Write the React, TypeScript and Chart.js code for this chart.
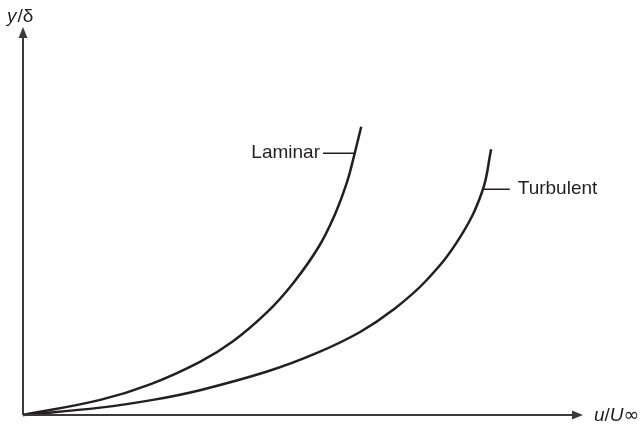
import { useEffect, useRef } from "react";
import { Chart, registerables } from "chart.js";

Chart.register(...registerables);

// Dimensionless boundary-layer velocity profiles: u/U∞ along x, y/δ along y.
const laminarU = [0, 0.138, 0.227, 0.316, 0.375, 0.436, 0.482, 0.527, 0.557, 0.579, 0.591, 0.604];
const laminarY = [0, 0.039, 0.079, 0.137, 0.19, 0.265, 0.339, 0.431, 0.517, 0.602, 0.667, 0.743];

const turbulentU = [0, 0.138, 0.232, 0.316, 0.436, 0.525, 0.602, 0.661, 0.721, 0.78, 0.82, 0.836];
const turbulentY = [0, 0.019, 0.039, 0.064, 0.112, 0.16, 0.214, 0.271, 0.348, 0.457, 0.576, 0.685];

// Curve names and the point on each curve where its leader line attaches.
const curveNames = ["Laminar", "Turbulent"];
const labelAnchorU = [0.591, 0.821];
const labelAnchorY = [0.675, 0.582];

const INK = "#231f20";
const AXIS = "#3a3a3a";
const FONT = "'Liberation Sans', Arial, Helvetica, sans-serif";

const toPoints = (xs: number[], ys: number[]) => xs.map((v, i) => ({ x: v, y: ys[i] }));

const decorations = {
  id: "decorations",
  afterDatasetsDraw(chart: any) {
    const { ctx, chartArea } = chart;
    const { left, right, top, bottom } = chartArea;
    const xs = chart.scales.x;
    const ys = chart.scales.y;
    ctx.save();

    // axes with arrowheads
    ctx.strokeStyle = AXIS;
    ctx.fillStyle = AXIS;
    ctx.lineWidth = 2;
    ctx.beginPath();
    ctx.moveTo(left, bottom);
    ctx.lineTo(left, top + 8);
    ctx.moveTo(left, bottom);
    ctx.lineTo(right - 8, bottom);
    ctx.stroke();

    ctx.beginPath();
    ctx.moveTo(left, top);
    ctx.lineTo(left - 4.5, top + 11);
    ctx.lineTo(left + 4.5, top + 11);
    ctx.closePath();
    ctx.fill();

    ctx.beginPath();
    ctx.moveTo(right, bottom);
    ctx.lineTo(right - 11, bottom - 4.5);
    ctx.lineTo(right - 11, bottom + 4.5);
    ctx.closePath();
    ctx.fill();

    // axis titles
    ctx.fillStyle = INK;
    ctx.textBaseline = "alphabetic";
    ctx.textAlign = "left";
    let tx = left - 16;
    const ty = top - 5;
    ctx.font = `italic 19px ${FONT}`;
    ctx.fillText("y", tx, ty);
    tx += ctx.measureText("y").width + 1;
    ctx.font = `19px ${FONT}`;
    ctx.fillText("/δ", tx, ty);

    let ux = right + 11;
    const uy = bottom + 6;
    ctx.font = `italic 19px ${FONT}`;
    ctx.fillText("u", ux, uy);
    ux += ctx.measureText("u").width;
    ctx.font = `19px ${FONT}`;
    ctx.fillText("/", ux, uy);
    ux += ctx.measureText("/").width;
    ctx.font = `italic 19px ${FONT}`;
    ctx.fillText("U", ux, uy);
    ux += ctx.measureText("U").width;
    ctx.font = `19px 'DejaVu Sans', ${FONT}`;
    ctx.fillText("∞", ux, uy);

    // curve labels with leader lines
    ctx.strokeStyle = INK;
    ctx.lineWidth = 1.5;
    ctx.font = `19px ${FONT}`;
    ctx.textBaseline = "middle";
    curveNames.forEach((name, i) => {
      const px = xs.getPixelForValue(labelAnchorU[i]);
      const py = Math.round(ys.getPixelForValue(labelAnchorY[i])) + 0.25;
      const toLeft = i === 0;
      const len = toLeft ? 31 : 27;
      const gap = toLeft ? 3 : 8;
      const end = toLeft ? px - len : px + len;
      ctx.beginPath();
      ctx.moveTo(px, py);
      ctx.lineTo(end, py);
      ctx.stroke();
      ctx.textAlign = toLeft ? "right" : "left";
      ctx.fillText(name, toLeft ? end - gap : end + gap, py);
    });

    ctx.restore();
  },
};

export default function App() {
  const canvasRef = useRef<HTMLCanvasElement | null>(null);

  useEffect(() => {
    const canvas = canvasRef.current;
    if (!canvas) return;
    const chart = new Chart(canvas, {
      type: "scatter",
      data: {
        datasets: [
          {
            label: curveNames[0],
            data: toPoints(laminarU, laminarY),
            showLine: true,
            borderColor: INK,
            borderWidth: 2.5,
            pointRadius: 0,
            tension: 0.4,
            clip: false,
          },
          {
            label: curveNames[1],
            data: toPoints(turbulentU, turbulentY),
            showLine: true,
            borderColor: INK,
            borderWidth: 2.5,
            pointRadius: 0,
            tension: 0.4,
            clip: false,
          },
        ],
      },
      options: {
        responsive: false,
        animation: false,
        layout: { padding: { left: 23, right: 57, top: 27, bottom: 11 } },
        plugins: {
          legend: { display: false },
          tooltip: { enabled: false },
        },
        scales: {
          x: { type: "linear", min: 0, max: 1, display: false },
          y: { type: "linear", min: 0, max: 1, display: false },
        },
      },
      plugins: [decorations],
    } as any);
    return () => chart.destroy();
  }, []);

  return (
    <div style={{ position: "fixed", left: 0, top: 0, width: 640, height: 426, background: "#fff" }}>
      <canvas ref={canvasRef} width={640} height={426} />
    </div>
  );
}
